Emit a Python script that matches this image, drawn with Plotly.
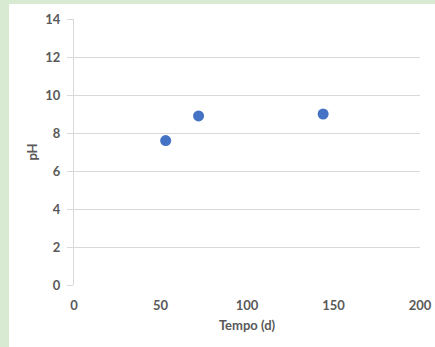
import plotly.graph_objects as go

# Sample times (days) and measured pH
tempo_d = [53, 72, 144]
ph = [7.6, 8.9, 9.0]

x_ticks = [0, 50, 100, 150, 200]
y_ticks = [0, 2, 4, 6, 8, 10, 12, 14]

W, H = 435, 347
L, R, T, B = 74, 15, 19, 62
pw, ph_px = W - L - R, H - T - B

fig = go.Figure(
    go.Scatter(
        x=tempo_d, y=ph, mode="markers",
        marker=dict(color="#4472C4", size=11, line=dict(width=0)),
        showlegend=False,
    )
)

tick_font = dict(family="Lato, Open Sans, sans-serif", size=13, color="#595959", weight="bold")

fig.update_layout(
    width=W, height=H,
    margin=dict(l=L, r=R, t=T, b=B, autoexpand=False),
    paper_bgcolor="#D9EAD3",
    plot_bgcolor="white",
    font=tick_font,
    shapes=[
        # white chart panel over the green page background
        dict(type="rect", xref="paper", yref="paper", layer="below",
             x0=(9 - L) / pw, x1=(W + 2 - L) / pw,
             y0=-(B + 2) / ph_px, y1=1 + (T - 4) / ph_px,
             fillcolor="white", line=dict(width=0)),
    ],
)

fig.update_xaxes(
    range=[0, 200], tickvals=x_ticks, showgrid=False, zeroline=False,
    showline=False, ticks="", ticklabelstandoff=11, tickfont=tick_font,
    automargin=False,
    title=dict(text="Tempo (d)", font=tick_font, standoff=8),
)
fig.update_yaxes(
    range=[0, 14], tickvals=y_ticks, showgrid=True, gridcolor="#D9D9D9", gridwidth=1,
    zeroline=False, showline=True, linecolor="#D9D9D9", linewidth=1,
    ticks="outside", ticklen=6, tickcolor="#D9D9D9", ticklabelstandoff=4,
    tickfont=tick_font, automargin=False,
    title=dict(text="pH", font=tick_font, standoff=4),
)

fig.write_html("out.html")
